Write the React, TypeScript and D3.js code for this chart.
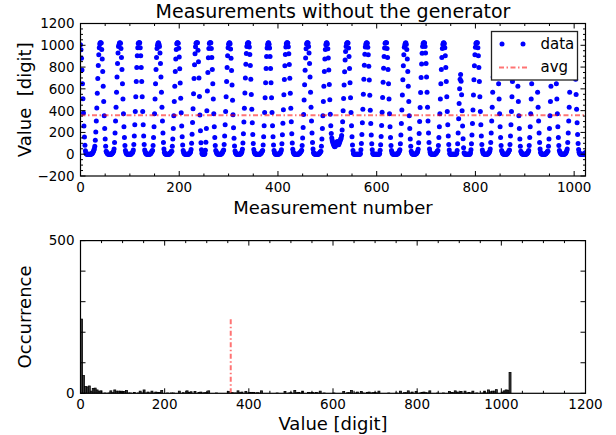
import React from "react";
import * as d3 from "d3";

const measurementValues: number[] = [
  1005, 958, 880, 773, 646, 510, 378, 258, 158, 82, 31, 9, 2, 0, 0, 0, 0, 0, 0, 0, 0, 0, 1, 4, 9, 16, 25, 36, 50, 72, 128, 205, 305, 425, 560, 695, 815, 912, 978,
  1012, 1023, 1023, 1020, 962, 875, 760, 625, 485, 352, 235, 140, 72, 28, 19, 8, 5, 0, 0, 0, 0, 0, 0, 0, 3, 7, 11, 17, 27, 48, 108, 195, 305, 432, 570, 708, 832, 930, 990,
  1006, 1020, 1023, 1019, 970, 889, 778, 646, 507, 372, 252, 153, 80, 33, 15, 6, 1, 0, 0, 0, 0, 0, 0, 0, 0, 6, 9, 14, 23, 38, 90, 168, 270, 392, 528, 667, 796, 903, 978,
  1017, 1023, 1023, 1023, 978, 903, 796, 667, 528, 392, 270, 168, 90, 38, 23, 10, 6, 0, 0, 0, 0, 0, 0, 0, 2, 7, 11, 20, 32, 33, 80, 153, 252, 372, 507, 646, 778, 889, 970,
  1001, 1019, 1023, 1010, 990, 930, 832, 708, 570, 432, 305, 195, 108, 48, 19, 7, 2, 0, 0, 0, 0, 0, 0, 0, 3, 6, 11, 17, 27, 28, 72, 140, 235, 352, 485, 625, 760, 875, 962,
  1014, 1023, 1023, 1019, 972, 893, 784, 653, 514, 380, 259, 160, 84, 35, 15, 7, 1, 0, 0, 0, 0, 0, 0, 0, 0, 5, 8, 14, 23, 44, 101, 184, 292, 418, 556, 695, 821, 922, 986,
  1018, 1023, 1023, 1023, 955, 850, 700, 530, 360, 215, 105, 40, 10, 0, 0, 0, 0, 0, 6, 36, 110, 235, 400, 580, 750, 885, 970,
  1017, 1023, 1023, 1023, 970, 889, 778, 646, 507, 372, 252, 153, 80, 33, 23, 10, 6, 0, 0, 0, 0, 0, 0, 0, 2, 7, 11, 20, 32, 38, 90, 168, 270, 392, 528, 667, 796, 903, 978,
  1009, 1021, 1023, 1014, 966, 882, 769, 636, 496, 362, 244, 147, 76, 30, 13, 6, 0, 0, 0, 0, 0, 0, 0, 0, 3, 7, 13, 22, 45, 103, 187, 296, 423, 561, 700, 826, 925, 988,
  1013, 1023, 1023, 1021, 984, 916, 814, 688, 549, 412, 288, 182, 99, 43, 20, 8, 5, 0, 0, 0, 0, 0, 0, 0, 0, 0, 2, 6, 12, 19, 29, 35, 85, 160, 261, 382, 518, 657, 787, 896, 974,
  1004, 1020, 1023, 1009, 975, 896, 787, 657, 518, 382, 261, 160, 85, 35, 14, 6, 0, 0, 0, 0, 0, 0, 0, 1, 6, 9, 16, 25, 41, 97, 178, 284, 409, 546, 685, 813, 916, 984,
  1015, 1023, 1023, 1021, 987, 923, 823, 698, 560, 422, 297, 188, 104, 45, 21, 8, 2, 0, 0, 0, 0, 0, 0, 0, 0, 1, 6, 9, 15, 23, 28, 36, 80, 150, 246, 364, 498, 638, 770, 883,
  968, 1012, 1023, 1023, 1020, 990, 930, 832, 708, 570, 432, 305, 195, 108, 48, 15, 7, 1, 0, 0, 0, 0, 0, 0, 0, 0, 5, 8, 14, 23, 28, 72, 140, 235, 352, 485, 625, 760, 875, 962,
  1006, 1020, 1023, 1012, 968, 884, 772, 640, 500, 368, 262, 190, 150, 126, 110, 96, 84, 75, 68, 72, 81, 94, 106, 117, 104, 91, 86, 99, 113, 126, 138, 150, 172, 222, 298, 398, 512, 636, 758, 864, 942, 990,
  1014, 1023, 1023, 1020, 974, 896, 787, 657, 518, 382, 261, 160, 85, 35, 7, 0, 0, 0, 0, 0, 0, 0, 0, 0, 0, 0, 0, 0, 6, 42, 99, 181, 288, 413, 550, 689, 816, 918, 985,
  1010, 1021, 1023, 1019, 982, 912, 808, 681, 541, 404, 281, 176, 95, 41, 9, 0, 0, 0, 0, 0, 0, 0, 0, 0, 0, 0, 0, 0, 7, 36, 87, 163, 264, 385, 521, 660, 790, 898, 975,
  1018, 1023, 1023, 1023, 970, 889, 778, 646, 507, 372, 252, 153, 80, 33, 14, 6, 0, 0, 0, 0, 0, 0, 0, 0, 0, 2, 7, 12, 20, 29, 40, 96, 177, 283, 407, 544, 683, 811, 914, 983,
  1003, 1019, 1023, 1008, 962, 875, 760, 625, 485, 352, 235, 140, 72, 28, 11, 5, 0, 0, 0, 0, 0, 0, 1, 6, 10, 17, 26, 46, 106, 191, 301, 428, 566, 704, 829, 928, 989,
  1013, 1023, 1023, 1020, 990, 930, 832, 708, 570, 432, 305, 195, 108, 48, 20, 7, 1, 0, 0, 0, 0, 0, 0, 0, 0, 5, 8, 13, 21, 30, 33, 80, 153, 252, 372, 507, 646, 778, 889, 970,
  1008, 1021, 1023, 1013, 978, 903, 796, 667, 528, 392, 270, 168, 90, 38, 10, 0, 0, 0, 0, 0, 0, 0, 0, 0, 0, 0, 0, 2, 9, 34, 95, 195, 325, 465, 600,
  688, 732, 670, 545, 400, 260, 143, 60, 13, 6, 0, 0, 0, 0, 0, 0, 0, 0, 0, 0, 3, 14, 40, 96, 177, 283, 407, 544, 683, 811, 914, 983,
  1017, 1023, 1023, 1023, 978, 903, 796, 667, 528, 392, 270, 168, 90, 38, 19, 7, 5, 0, 0, 0, 0, 0, 0, 0, 3, 6, 11, 17, 27, 48, 108, 195, 305, 432, 570, 708, 832, 930, 990,
  1006, 1020, 1023, 1019, 970, 889, 778, 646, 507, 372, 252, 153, 80, 33, 23, 10, 4, 0, 0, 0, 0, 0, 0, 0, 2, 7, 11, 20, 32, 38, 90, 168, 270, 392, 528, 667, 796, 903, 978,
  1012, 1023, 1023, 1020, 962, 875, 760, 625, 485, 352, 235, 140, 72, 28, 15, 6, 1, 0, 0, 0, 0, 0, 0, 0, 0, 5, 8, 14, 23, 33, 80, 153, 252, 372, 507, 646, 778, 889, 970,
  1001, 1019, 1023, 1010, 990, 930, 832, 708, 570, 432, 305, 195, 108, 48, 19, 7, 2, 0, 0, 0, 0, 0, 0, 0, 3, 6, 11, 17, 27, 28, 72, 140, 235, 352, 485, 625, 760, 875, 962,
  1017, 1023, 1023, 1023, 970, 889, 778, 646, 507, 372, 252, 153, 80, 33, 23, 10, 6, 0, 0, 0, 0, 0, 0, 0, 2, 7, 11, 20, 32, 48, 108, 195, 305, 432, 570, 708, 832, 930, 990,
  1010, 1021, 1023, 1019, 984, 916, 814, 688, 549, 412, 288, 182, 99, 43, 17, 6, 0, 0, 0, 0, 0, 0, 0, 0, 0, 2, 8, 15,
];

const averageValue = 357;

const topXTicks = [0, 200, 400, 600, 800, 1000];
const topYTicks = [-200, 0, 200, 400, 600, 800, 1000, 1200];
const bottomXTicks = [0, 200, 400, 600, 800, 1000, 1200];
const bottomYTicks = [0, 500];
const bottomYMinorTicks = [100, 200, 300, 400];
const binCount = 220;

const FONT = "DejaVu Sans, Verdana, sans-serif";

export default function App() {
  const W = 616;
  const H = 435;
  const L = 80.5;
  const R = 585.5;
  const T1 = 23.5;
  const B1 = 176;
  const T2 = 240.6;
  const B2 = 393.3;

  const x1 = d3.scaleLinear().domain([0, 1023]).range([L, R]);
  const y1 = d3.scaleLinear().domain([-200, 1200]).range([B1, T1]);
  const x2 = d3.scaleLinear().domain([0, 1200]).range([L, R]);
  const y2 = d3.scaleLinear().domain([0, 500]).range([B2, T2]);

  const thresholds = d3.range(1, binCount).map((i) => (i * 1023) / binCount);
  const bins = d3.bin().domain([0, 1023]).thresholds(thresholds)(measurementValues);
  const maxCount = d3.max(bins, (b) => b.length) ?? 0;

  const majorLen = 5;
  const minorLen = 2.5;

  const topXMinor = d3.range(0, 1024, 50).filter((v) => v % 200 !== 0);
  const topYMinor = d3.range(-200, 1201, 50).filter((v) => v % 200 !== 0);
  const botXMinor = d3.range(0, 1201, 50).filter((v) => v % 200 !== 0);

  const xTicksMarks = (xs: number[], sx: (v: number) => number, top: number, bottom: number, len: number, key: string) =>
    xs.map((v) => (
      <g key={key + v}>
        <line x1={sx(v)} x2={sx(v)} y1={bottom} y2={bottom - len} stroke="#000" strokeWidth={1} />
        <line x1={sx(v)} x2={sx(v)} y1={top} y2={top + len} stroke="#000" strokeWidth={1} />
      </g>
    ));
  const yTicksMarks = (ys: number[], sy: (v: number) => number, len: number, key: string) =>
    ys.map((v) => (
      <g key={key + v}>
        <line x1={L} x2={L + len} y1={sy(v)} y2={sy(v)} stroke="#000" strokeWidth={1} />
        <line x1={R} x2={R - len} y1={sy(v)} y2={sy(v)} stroke="#000" strokeWidth={1} />
      </g>
    ));

  const dash = "5,2.5,1.5,2.5";

  return (
    <svg
      width={W}
      height={H}
      viewBox={`0 0 ${W} ${H}`}
      style={{ position: "absolute", left: 0, top: 0, background: "#fff" }}
      fontFamily={FONT}
    >
      <rect x={0} y={0} width={W} height={H} fill="#fff" />
      <defs>
        <clipPath id="clipTop">
          <rect x={L} y={T1} width={R - L} height={B1 - T1} />
        </clipPath>
        <clipPath id="clipBot">
          <rect x={L} y={T2} width={R - L} height={B2 - T2} />
        </clipPath>
      </defs>

      {/* ---------- Top panel ---------- */}
      <text x={(L + R) / 2} y={18} textAnchor="middle" fontSize={19} fill="#000">
        Measurements without the generator
      </text>
      <g clipPath="url(#clipTop)">
        {measurementValues.map((v, i) => (
          <circle key={i} cx={x1(i)} cy={y1(v)} r={2.5} fill="#0000ff" />
        ))}
        <line
          x1={x1(0)}
          x2={x1(1023)}
          y1={y1(averageValue)}
          y2={y1(averageValue)}
          stroke="#ff0000"
          strokeOpacity={0.55}
          strokeWidth={2}
          strokeDasharray={dash}
        />
      </g>
      <rect x={L} y={T1} width={R - L} height={B1 - T1} fill="none" stroke="#000" strokeWidth={1.2} />
      {xTicksMarks(topXTicks, x1, T1, B1, majorLen, "tx")}
      {xTicksMarks(topXMinor, x1, T1, B1, minorLen, "tmx")}
      {yTicksMarks(topYTicks, y1, majorLen, "ty")}
      {yTicksMarks(topYMinor, y1, minorLen, "tmy")}
      {topXTicks.map((v) => (
        <text key={"txl" + v} x={x1(v)} y={B1 + 16} textAnchor="middle" fontSize={13.5} fill="#000">
          {v}
        </text>
      ))}
      {topYTicks.map((v) => (
        <text key={"tyl" + v} x={L - 6} y={y1(v)} dy="0.36em" textAnchor="end" fontSize={13.5} fill="#000">
          {v < 0 ? "\u2212" + Math.abs(v) : v}
        </text>
      ))}
      <text x={(L + R) / 2} y={214} textAnchor="middle" fontSize={18} fill="#000">
        Measurement number
      </text>
      <text
        transform={`translate(31, ${(T1 + B1) / 2}) rotate(-90)`}
        textAnchor="middle"
        fontSize={18}
        fill="#000"
        style={{ whiteSpace: "pre" }}
      >
        {"Value  [digit]"}
      </text>

      {/* legend */}
      <g>
        <rect x={491.5} y={31.5} width={86} height={48.5} fill="#fff" stroke="#222" strokeWidth={1.3} />
        <circle cx={502} cy={44} r={2.5} fill="#0000ff" />
        <circle cx={523} cy={44} r={2.5} fill="#0000ff" />
        <text x={540.5} y={49} fontSize={15} fill="#000">
          data
        </text>
        <line x1={499} x2={527} y1={67.5} y2={67.5} stroke="#ff0000" strokeOpacity={0.55} strokeWidth={2} strokeDasharray={dash} />
        <text x={540.5} y={72} fontSize={15} fill="#000">
          avg
        </text>
      </g>

      {/* ---------- Bottom panel ---------- */}
      <g clipPath="url(#clipBot)">
        {bins.map((b, i) => (
          <rect
            key={i}
            x={x2(b.x0 as number)}
            y={y2(b.length)}
            width={Math.max(0, x2(b.x1 as number) - x2(b.x0 as number))}
            height={Math.max(0, y2(0) - y2(b.length))}
            fill="#3a3a3a"
            stroke="#000"
            strokeWidth={0.8}
          />
        ))}
        <line
          x1={x2(averageValue)}
          x2={x2(averageValue)}
          y1={y2(0)}
          y2={y2(maxCount)}
          stroke="#ff0000"
          strokeOpacity={0.55}
          strokeWidth={2}
          strokeDasharray={dash}
        />
      </g>
      <rect x={L} y={T2} width={R - L} height={B2 - T2} fill="none" stroke="#000" strokeWidth={1.2} />
      {xTicksMarks(bottomXTicks, x2, T2, B2, majorLen, "bx")}
      {xTicksMarks(botXMinor, x2, T2, B2, minorLen, "bmx")}
      {yTicksMarks(bottomYTicks, y2, majorLen, "by")}
      {yTicksMarks(bottomYMinorTicks, y2, majorLen, "bmy")}
      {bottomXTicks.map((v) => (
        <text key={"bxl" + v} x={x2(v)} y={B2 + 16} textAnchor="middle" fontSize={13.5} fill="#000">
          {v}
        </text>
      ))}
      {bottomYTicks.map((v) => (
        <text key={"byl" + v} x={L - 6} y={y2(v)} dy="0.36em" textAnchor="end" fontSize={13.5} fill="#000">
          {v}
        </text>
      ))}
      <text x={(L + R) / 2} y={430} textAnchor="middle" fontSize={18} fill="#000">
        Value [digit]
      </text>
      <text transform={`translate(31, ${(T2 + B2) / 2}) rotate(-90)`} textAnchor="middle" fontSize={18} fill="#000">
        Occurrence
      </text>
    </svg>
  );
}
